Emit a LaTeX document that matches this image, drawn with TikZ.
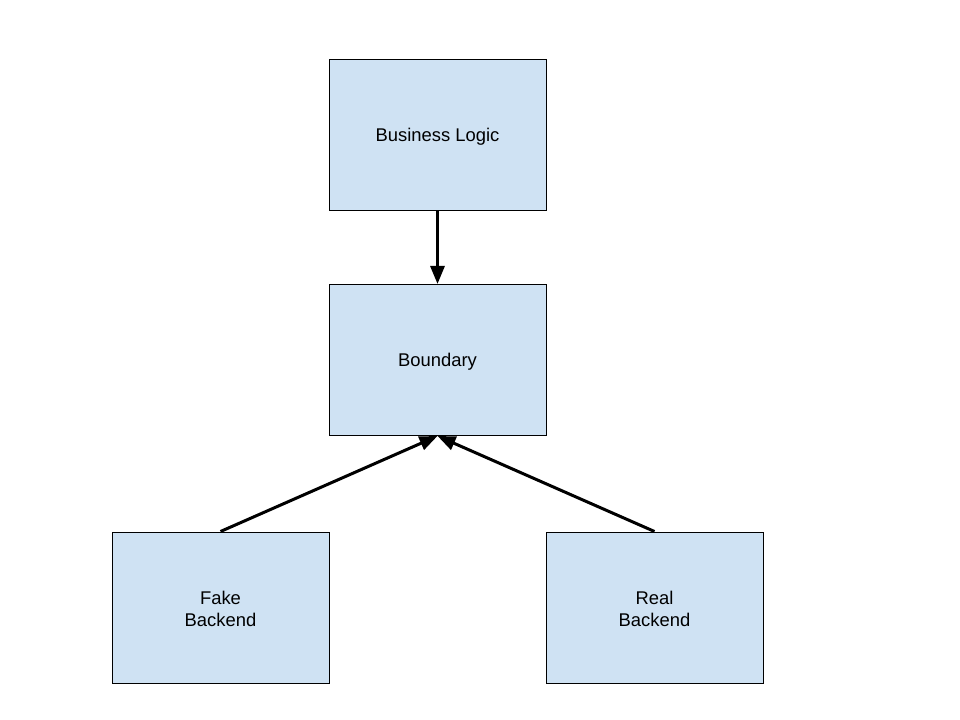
\documentclass[tikz,border=0pt]{standalone}
\usepackage{fontspec}
\setmainfont{Liberation Sans}
\usetikzlibrary{arrows.meta}
\definecolor{boxfill}{HTML}{CFE2F3}
\begin{document}
\begin{tikzpicture}[x=0.75pt,y=-0.75pt,
  box/.style={draw=black,line width=0.75pt,fill=boxfill,minimum width=217*0.75pt,minimum height=151*0.75pt,inner sep=0pt,align=center},
  lbl/.style={align=center,inner sep=0pt,font=\fontsize{13.8pt}{16.5pt}\selectfont},
  conn/.style={line width=2.25pt,-{Triangle[length=13.5pt,width=10.5pt]}}]
\useasboundingbox (0,0) rectangle (960,720);
\node[box] (bl) at (437.5,135) {};
\node[box] (bd) at (437.5,360) {};
\node[box] (fk) at (220.5,607.5) {};
\node[box] (rl) at (654.5,607.5) {};
\node[lbl] (blt) at (437.5,136.5) {Business Logic};
\node[lbl] (bdt) at (437.5,361.5) {Boundary};
\node[lbl] (fkt) at (220.5,609) {Fake\\Backend};
\node[lbl] (rlt) at (654.5,609) {Real\\Backend};
\draw[conn] (bl.south) -- (bd.north);
\draw[conn] (fk.north) -- (bd.south);
\draw[conn] (rl.north) -- (bd.south);
\end{tikzpicture}
\end{document}
